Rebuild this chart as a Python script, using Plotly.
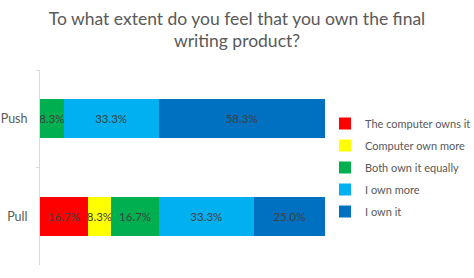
import plotly.graph_objects as go

categories = ["Push", "Pull"]
series_names = ["The computer owns it", "Computer own more", "Both own it equally", "I own more", "I own it"]
series_colors = ["#FF0000", "#FFFF00", "#00B050", "#00B0F0", "#0070C0"]
computer_owns = [0.0, 16.7]
computer_more = [0.0, 8.3]
both_equal = [8.3, 16.7]
i_own_more = [33.3, 33.3]
i_own_it = [58.3, 25.0]
series_values = [computer_owns, computer_more, both_equal, i_own_more, i_own_it]

fig = go.Figure()
for i, (name, color, vals) in enumerate(zip(series_names, series_colors, series_values)):
    texts = [f"{v:.1f}%" if v > 0 else "" for v in vals]
    fig.add_trace(go.Bar(
        y=categories, x=vals, name=name, orientation="h",
        marker=dict(color=color, line=dict(width=0)),
        text=texts, textposition="inside", insidetextanchor="middle", textangle=0,
        textfont=dict(color="#404040", size=11.5), constraintext="none",
        cliponaxis=False, legendgroup=f"g{i}", hoverinfo="skip",
    ))

fig.update_layout(
    width=474, height=278,
    barmode="stack", bargap=0.6,
    margin=dict(l=40, r=149, t=70, b=13, autoexpand=False),
    paper_bgcolor="white", plot_bgcolor="white",
    font=dict(family="Lato, sans-serif", color="#595959"),
    title=dict(text="To what extent do you feel that you own the final<br>writing product?",
               x=0.5, xanchor="center", xref="container",
               y=1 - 24.5 / 278, yanchor="middle", yref="container",
               font=dict(size=17.5, color="#595959")),
    xaxis=dict(range=[0, 100], visible=False, fixedrange=True, automargin=False),
    yaxis=dict(autorange="reversed", showline=True, linecolor="#D9D9D9", linewidth=1,
               ticks="outside", tickson="boundaries", ticklen=3, tickcolor="#D9D9D9",
               tickfont=dict(size=12.5, color="#595959"), ticklabelstandoff=9,
               showgrid=False, zeroline=False, automargin=False),
    legend=dict(x=1.0, xanchor="left", y=0.5, yanchor="middle",
                traceorder="grouped", tracegroupgap=3,
                font=dict(size=11, color="#595959"), bgcolor="rgba(0,0,0,0)"),
    uniformtext=dict(minsize=8, mode="show"),
)

fig.write_html("out.html", config={"displayModeBar": False},
               post_script="document.body.style.margin='0';document.body.style.overflow='hidden';")
